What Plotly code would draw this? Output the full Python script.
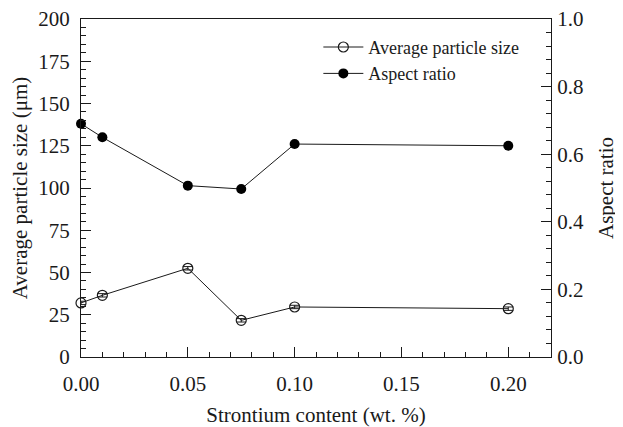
import plotly.graph_objects as go

sr_content = [0.0, 0.01, 0.05, 0.075, 0.10, 0.20]
avg_particle_size = [32.0, 36.5, 52.5, 21.7, 29.6, 28.6]
size_err = [1.0, 1.0, 1.0, 1.0, 1.0, 1.0]
aspect_ratio = [0.69, 0.65, 0.507, 0.497, 0.63, 0.625]

font_family = "Liberation Serif, Times New Roman, serif"
ink = "#1a1a1a"

fig = go.Figure()
fig.add_trace(go.Scatter(
    x=sr_content, y=avg_particle_size, name="Average particle size",
    mode="lines+markers",
    line=dict(color=ink, width=1),
    marker=dict(symbol="circle-open", size=10, color=ink, line=dict(width=1.2)),
    error_y=dict(type="data", array=size_err, color=ink, thickness=1, width=5),
    cliponaxis=False,
))
fig.add_trace(go.Scatter(
    x=sr_content, y=aspect_ratio, name="Aspect ratio", yaxis="y2",
    mode="lines+markers",
    line=dict(color=ink, width=1),
    marker=dict(symbol="circle", size=10, color="black"),
    cliponaxis=False,
))

tickfont = dict(family=font_family, size=21, color=ink)
fig.update_layout(
    width=615, height=419,
    margin=dict(l=73, r=72, t=11, b=70),
    paper_bgcolor="white", plot_bgcolor="white",
    font=dict(family=font_family, color=ink),
    showlegend=True,
    legend=dict(x=0.505, y=0.971, xanchor="left", yanchor="top",
                bgcolor="rgba(0,0,0,0)", font=dict(family=font_family, size=18, color=ink),
                tracegroupgap=0, itemwidth=40),
    xaxis=dict(
        range=[0, 0.22], tickvals=[0, 0.05, 0.10, 0.15, 0.20],
        ticktext=["0.00", "0.05", "0.10", "0.15", "0.20"],
        showline=True, linecolor=ink, linewidth=1.2, mirror=True,
        ticks="inside", ticklen=10, tickcolor=ink, tickwidth=1,
        minor=dict(dtick=0.01, ticks="inside", ticklen=5, tickcolor=ink),
        showgrid=False, zeroline=False, tickfont=tickfont, automargin=False,
        ticklabelstandoff=8, ticklabeloverflow="allow",
        title=dict(text="Strontium content (wt. %)", font=dict(family=font_family, size=21, color=ink), standoff=19),
    ),
    yaxis=dict(
        range=[0, 200], dtick=25,
        showline=True, linecolor=ink, linewidth=1.2,
        ticks="inside", ticklen=10, tickcolor=ink, tickwidth=1,
        minor=dict(dtick=5, ticks="inside", ticklen=5, tickcolor=ink),
        showgrid=False, zeroline=False, tickfont=tickfont, automargin=False,
        ticklabelstandoff=6, ticklabeloverflow="allow",
        title=dict(text="Average particle size (μm)", font=dict(family=font_family, size=21, color=ink), standoff=12),
    ),
    yaxis2=dict(
        range=[0, 1.0], dtick=0.2, tickformat=".1f", overlaying="y", side="right",
        showline=True, linecolor=ink, linewidth=1.2,
        ticks="inside", ticklen=10, tickcolor=ink, tickwidth=1,
        minor=dict(dtick=0.04, ticks="inside", ticklen=5, tickcolor=ink),
        showgrid=False, zeroline=False, tickfont=tickfont, automargin=False,
        ticklabelstandoff=1, ticklabeloverflow="allow",
        title=dict(text="Aspect ratio", font=dict(family=font_family, size=21, color=ink), standoff=15),
    ),
)

fig.write_html("out.html")
